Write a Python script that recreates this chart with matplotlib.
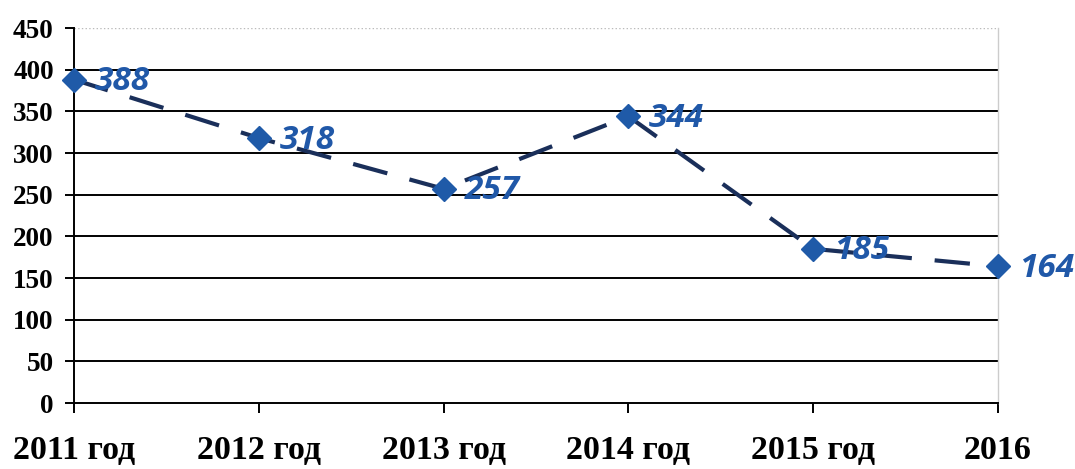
import matplotlib
matplotlib.use("Agg")
import matplotlib.pyplot as plt

categories = ["2011 год", "2012 год", "2013 год", "2014 год", "2015 год", "2016"]
values = [388, 318, 257, 344, 185, 164]
yticks = [0, 50, 100, 150, 200, 250, 300, 350, 400, 450]

fig = plt.figure(figsize=(10.75, 4.69), dpi=100)
ax = fig.add_axes([74/1075, 1-403/469, (998-74)/1075, (403-28)/469])

x = list(range(len(categories)))
ax.set_xlim(0, len(categories)-1)
ax.set_ylim(0, 450)

for v in yticks[1:-1]:
    ax.axhline(v, color="black", lw=1.4, zorder=1)
ax.axhline(450, color="#bbbbbb", lw=1.0, ls=":", zorder=1)

ax.plot(x, values, color="#1a2f5a", lw=3.0, dashes=(8.5, 5.5), zorder=3, clip_on=False)
ax.plot(x, values, ls="none", marker="D", ms=12, color="#1f5aa8", zorder=4, clip_on=False)

for xi, v in zip(x, values):
    ax.annotate(str(v), (xi, v), xytext=(15, -1.5), textcoords="offset points",
                ha="left", va="center", fontsize=24, fontstyle="italic", fontweight="bold",
                color="#2058a8", family="Open Sans", zorder=5, annotation_clip=False)

ax.set_yticks(yticks)
ax.set_yticklabels([str(t) for t in yticks], family="Liberation Serif", fontweight="bold", fontsize=19.5)
ax.set_xticks(x)
ax.set_xticklabels(categories, family="Liberation Serif", fontweight="bold", fontsize=24.5)
ax.tick_params(axis="y", length=6.5, width=1.4, pad=8, color="black")
ax.tick_params(axis="x", length=7, width=1.4, pad=16, color="black")

ax.spines["top"].set_visible(False)
ax.spines["right"].set_color("#cccccc")
ax.spines["right"].set_linewidth(1.0)
ax.spines["left"].set_linewidth(1.4)
ax.spines["bottom"].set_linewidth(1.4)

fig.savefig("out.png", dpi=100)
